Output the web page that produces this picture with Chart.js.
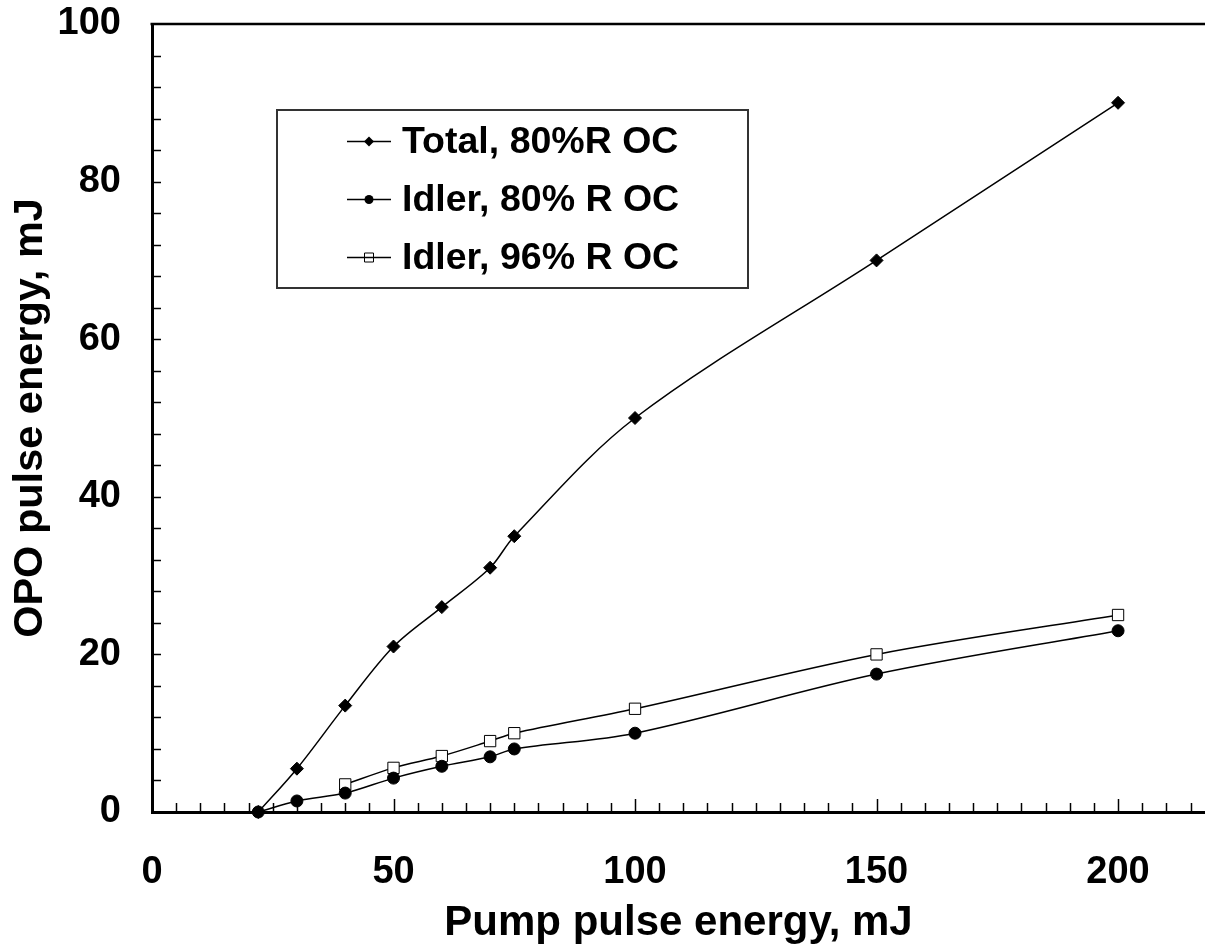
<!DOCTYPE html>
<html>
<head>
<meta charset="utf-8">
<script src="https://cdn.jsdelivr.net/npm/chart.js@4/dist/chart.umd.min.js"></script>
<style>
  html, body { margin: 0; padding: 0; background: #fff; overflow: hidden; width: 1205px; height: 944px; }
  #c { display: block; }
</style>
</head>
<body>
<canvas id="c" width="1214" height="944"></canvas>
<script>
// ---- data ----
const pumpEnergy   = [22, 30, 40, 50, 60, 70, 75, 100, 150, 200];
const totalOC80    = [0, 5.5, 13.5, 21, 26, 31, 35, 50, 70, 90];
const idlerOC80    = [0, 1.4, 2.4, 4.3, 5.8, 7.0, 8.0, 10.0, 17.5, 23.0];
const pumpEnergy96 = [40, 50, 60, 70, 75, 100, 150, 200];
const idlerOC96    = [3.5, 5.6, 7.1, 9.0, 10.0, 13.1, 20.0, 25.0];
const xTickValues  = [0, 50, 100, 150, 200];
const yTickValues  = [0, 20, 40, 60, 80, 100];
const seriesLabels = ['Total, 80%R OC', 'Idler, 80% R OC', 'Idler, 96% R OC'];
const xTitle = 'Pump pulse energy, mJ';
const yTitle = 'OPO pulse energy, mJ';

const FONT = "'Liberation Sans', Arial, Helvetica, sans-serif";
Chart.defaults.font.family = FONT;
Chart.defaults.color = '#000';

const toPts = (xs, ys) => xs.map((x, i) => ({ x: x, y: ys[i] }));

const markerStyles = [
  { pointStyle: 'rectRot', radius: 6.5, fill: '#000' },
  { pointStyle: 'circle', radius: 6, fill: '#000' },
  { pointStyle: 'rect', radius: 8, fill: '#fff' }
];

function drawLegendMarker(ctx, idx, cx, cy) {
  ctx.save();
  ctx.lineWidth = 1;
  ctx.strokeStyle = '#000';
  ctx.fillStyle = '#000';
  ctx.beginPath();
  if (idx === 0) {
    const r = 5;
    ctx.moveTo(cx - r, cy); ctx.lineTo(cx, cy - r); ctx.lineTo(cx + r, cy); ctx.lineTo(cx, cy + r);
    ctx.closePath(); ctx.fill();
  } else if (idx === 1) {
    ctx.arc(cx, cy, 4.5, 0, Math.PI * 2); ctx.fill();
  } else {
    ctx.rect(cx - 4.5, cy - 4.5, 9, 9); ctx.stroke();
  }
  ctx.restore();
}

const framePlugin = {
  id: 'framePlugin',
  beforeDatasetsDraw(chart) {
    const { ctx, chartArea: a, scales: { x, y } } = chart;
    ctx.save();
    ctx.strokeStyle = '#000';
    // top frame line
    ctx.lineWidth = 2.5;
    ctx.beginPath();
    ctx.moveTo(a.left - 1.5, a.top);
    ctx.lineTo(a.right, a.top);
    ctx.stroke();
    // inward x ticks every 5
    ctx.lineWidth = 1.5;
    for (let v = 5; v <= x.max; v += 5) {
      const px = Math.round(x.getPixelForValue(v)) + 0.5;
      const len = (v % 50 === 0) ? 13 : 9;
      ctx.beginPath();
      ctx.moveTo(px, a.bottom);
      ctx.lineTo(px, a.bottom - len);
      ctx.stroke();
    }
    // inward y ticks every 4
    for (let v = 4; v < y.max; v += 4) {
      const py = Math.round(y.getPixelForValue(v)) + 0.5;
      ctx.beginPath();
      ctx.moveTo(a.left, py);
      ctx.lineTo(a.left + 9, py);
      ctx.stroke();
    }
    ctx.restore();
  },
  afterDraw(chart) {
    const { ctx } = chart;
    ctx.save();
    // legend box
    const bx = 277, by = 110, bw = 471, bh = 178;
    ctx.fillStyle = '#fff';
    ctx.fillRect(bx, by, bw, bh);
    ctx.strokeStyle = '#333';
    ctx.lineWidth = 2;
    ctx.strokeRect(bx, by, bw, bh);
    const rows = [141, 199, 257];
    ctx.font = "bold 37.5px " + FONT;
    ctx.textBaseline = 'middle';
    ctx.textAlign = 'left';
    chart.data.datasets.forEach((ds, i) => {
      const cy = rows[i];
      ctx.strokeStyle = '#000';
      ctx.lineWidth = 1.5;
      ctx.beginPath();
      ctx.moveTo(347, cy + 0.5);
      ctx.lineTo(391, cy + 0.5);
      ctx.stroke();
      drawLegendMarker(ctx, i, 369, cy + 0.5);
      ctx.fillStyle = '#000';
      ctx.fillText(ds.label, 402, cy + 2);
    });
    ctx.restore();
  }
};

const mkDataset = (label, pts, idx) => ({
  label: label,
  data: pts,
  borderColor: '#000',
  backgroundColor: markerStyles[idx].fill,
  borderWidth: 1.5,
  pointStyle: markerStyles[idx].pointStyle,
  pointRadius: markerStyles[idx].radius,
  pointBorderWidth: 1,
  pointBorderColor: '#000',
  pointBackgroundColor: markerStyles[idx].fill,
  tension: 0.33,
  fill: false,
  clip: false
});

new Chart(document.getElementById('c'), {
  type: 'line',
  data: {
    datasets: [
      mkDataset(seriesLabels[0], toPts(pumpEnergy, totalOC80), 0),
      mkDataset(seriesLabels[1], toPts(pumpEnergy, idlerOC80), 1),
      mkDataset(seriesLabels[2], toPts(pumpEnergy96, idlerOC96), 2)
    ]
  },
  options: {
    responsive: false,
    animation: false,
    devicePixelRatio: 1,
    layout: { padding: 0 },
    plugins: { legend: { display: false }, tooltip: { enabled: false } },
    scales: {
      x: {
        type: 'linear',
        min: 0,
        max: 218,
        afterBuildTicks: s => { s.ticks = xTickValues.map(v => ({ value: v })); },
        afterFit: s => { s.height = 132; s.paddingLeft = 0; s.paddingRight = 0; },
        grid: { drawOnChartArea: false, drawTicks: false, color: 'rgba(0,0,0,0)' },
        border: { display: true, color: '#000', width: 3 },
        ticks: {
          padding: 0,
          maxRotation: 0,
          autoSkip: false,
          color: '#000',
          font: { size: 38, weight: 'bold', family: FONT, lineHeight: 3.16 }
        },
        title: {
          display: true,
          text: xTitle,
          color: '#000',
          font: { size: 42, weight: 'bold', family: FONT, lineHeight: 1 },
          padding: { top: 0, bottom: 0 }
        }
      },
      y: {
        type: 'linear',
        min: 0,
        max: 100,
        afterBuildTicks: s => { s.ticks = yTickValues.map(v => ({ value: v })); },
        afterFit: s => { s.width = 152; s.paddingTop = 24; s.paddingBottom = 0; },
        grid: { drawOnChartArea: false, drawTicks: false, color: 'rgba(0,0,0,0)' },
        border: { display: true, color: '#000', width: 3 },
        ticks: {
          padding: 31,
          color: '#000',
          font: { size: 38, weight: 'bold', family: FONT }
        },
        title: {
          display: true,
          text: yTitle,
          color: '#000',
          font: { size: 41.5, weight: 'bold', family: FONT, lineHeight: 1 },
          padding: { top: 10, bottom: 0 }
        }
      }
    }
  },
  plugins: [framePlugin]
});
</script>
</body>
</html>
